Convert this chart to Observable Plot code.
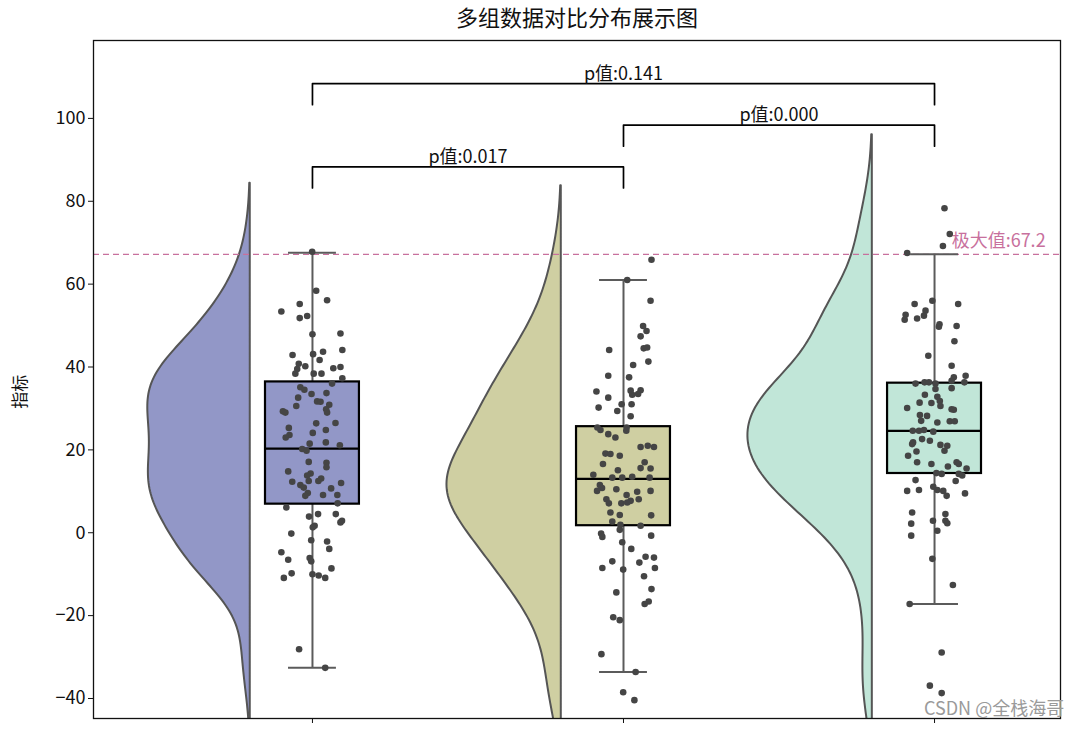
<!DOCTYPE html>
<html>
<head>
<meta charset="utf-8">
<script src="https://cdn.jsdelivr.net/npm/d3@7"></script>
<script src="https://cdn.jsdelivr.net/npm/@observablehq/plot@0.6"></script>
<style>
  body { margin: 0; background: #fff; font-family: 'Noto Sans CJK SC', sans-serif; }
  #title { width: 1000px; margin-left: 77px; height: 30px; line-height: 33px; text-align: center; font-size: 22px; color: #111; }
  #wrap { position: relative; width: 1077px; }
</style>
</head>
<body>
<div id="title">多组数据对比分布展示图</div>
<div id="wrap"></div>
<script>
// ---------------- data ----------------
const groups = ["组1", "组2", "组3"];
const fills = ["#9297c7", "#cfcfa2", "#c1e6d8"];

const valuesA = [67.8,58.4,56.1,55.2,53.4,51.8,52.3,47.9,48.1,42.9,
  43.1,43.7,44.1,41.7,40.8,40.2,39.5,38.4,38.4,38.4,
  39.7,40.0,37.3,36.0,35.1,34.5,33.5,33.7,32.6,31.7,
  31.6,30.9,30.6,29.8,29.3,29.0,29.0,26.4,26.5,25.3,
  24.1,24.8,23.6,23.0,21.8,21.5,21.1,20.2,19.8,17.1,
  16.9,15.8,14.8,14.3,13.8,13.1,12.5,12.3,12.0,12.5,
  11.5,10.9,9.6,8.9,9.1,10.7,9.1,7.1,6.1,3.9,
  4.5,4.5,1.7,1.3,2.5,2.9,-0.2,-1.8,-2.1,-3.9,
  -4.7,-6.5,-6.1,-6.9,-8.6,-9.8,-10.9,-10.0,-10.3,-10.9,
  -28.1,-32.6];
const jitterA = [-0.001,0.012,0.047,-0.041,-0.100,-0.041,-0.017,0.000,0.090,-0.064,
  0.002,0.034,0.096,0.023,-0.044,-0.023,-0.049,-0.055,0.004,0.029,
  0.067,0.090,0.096,0.063,-0.039,-0.026,-0.003,0.045,-0.046,0.015,
  0.026,0.054,-0.052,0.044,-0.095,-0.087,0.047,0.012,0.074,-0.076,
  0.001,0.043,-0.074,-0.086,0.043,-0.009,0.088,-0.033,-0.019,-0.012,
  0.045,0.045,-0.078,-0.006,-0.017,0.028,0.019,-0.065,0.092,-0.012,
  -0.039,-0.028,-0.015,-0.023,0.034,0.060,0.080,0.081,-0.084,-0.011,
  0.018,0.075,0.007,0.001,0.090,0.095,-0.068,-0.004,0.047,0.054,
  -0.100,-0.078,-0.009,-0.004,0.061,-0.067,-0.092,0.000,0.020,0.041,
  -0.043,0.041];

const valuesB = [65.9,61.0,56.0,49.9,48.7,47.4,44.1,44.5,44.7,41.3,
  40.5,37.9,37.5,34.1,34.3,34.4,33.5,33.3,32.6,31.0,
  31.0,30.2,29.4,28.1,25.4,25.4,24.8,23.8,23.0,24.6,
  20.7,21.0,20.7,19.1,19.0,18.6,16.6,17.0,15.6,15.5,
  15.1,14.0,13.3,13.3,13.5,13.3,11.5,10.8,10.1,10.5,
  9.9,10.1,9.1,8.1,7.7,8.1,7.1,7.1,7.3,4.9,
  4.3,4.2,2.7,1.9,1.7,0.7,-0.2,-1.0,-0.7,-2.3,
  -3.9,-6.9,-8.5,-8.9,-7.2,-5.8,-6.0,-8.5,-10.5,-14.4,
  -13.6,-16.6,-17.2,-20.4,-21.1,-29.3,-33.6,-38.5,-40.4];
const jitterB = [0.090,0.012,0.087,0.063,0.074,0.055,-0.046,0.065,0.076,0.080,
  0.031,-0.049,0.018,-0.087,0.023,0.055,0.047,0.028,-0.049,-0.006,
  0.026,-0.080,-0.020,0.023,-0.084,0.010,-0.074,-0.049,-0.026,0.009,
  0.055,0.078,0.098,-0.058,-0.042,-0.012,-0.066,0.068,0.055,0.087,
  -0.018,-0.097,-0.036,-0.004,0.028,0.084,-0.076,-0.069,-0.085,-0.023,
  0.044,0.087,0.010,-0.055,0.023,0.049,-0.047,-0.007,0.012,-0.042,
  -0.012,0.089,-0.036,-0.010,0.055,-0.012,-0.072,-0.068,0.089,-0.004,
  0.025,-0.036,-0.068,-0.001,0.051,0.071,0.098,0.101,0.066,-0.023,
  0.090,0.081,0.068,-0.033,-0.012,-0.071,0.039,-0.001,0.035];

const valuesC = [78.3,72.1,69.2,67.5,56.0,55.2,55.2,53.6,52.4,52.6,
  51.4,51.7,50.3,49.7,49.9,46.2,42.7,40.3,37.5,37.9,
  36.7,36.3,36.0,36.3,36.3,36.0,34.9,34.7,33.3,32.8,
  31.8,31.4,31.3,30.1,30.6,29.8,29.7,28.4,28.2,26.6,
  26.9,26.9,27.0,24.6,24.6,24.8,24.4,21.8,21.4,22.6,
  22.2,21.2,21.0,19.8,19.6,18.6,17.0,16.6,16.0,17.0,
  16.6,15.5,14.4,14.2,14.2,13.8,12.5,12.7,11.1,10.1,
  10.3,10.3,10.1,8.9,9.5,4.9,4.5,2.9,2.9,2.3,
  2.2,0.5,-0.7,-6.3,-12.6,-17.2,-28.9,-36.9,-38.7];
const jitterC = [0.032,0.049,0.027,-0.088,-0.007,-0.064,0.076,-0.029,-0.034,-0.093,
  -0.096,-0.056,0.016,0.014,0.071,0.064,-0.020,0.055,0.062,0.100,
  0.055,0.096,-0.061,-0.032,-0.018,0.003,0.055,0.003,-0.031,0.009,
  0.017,-0.048,-0.010,-0.088,0.019,0.055,0.062,-0.047,-0.024,0.009,
  0.049,0.065,-0.043,-0.070,-0.050,-0.034,-0.004,-0.069,-0.072,-0.040,
  -0.015,0.019,0.041,0.032,-0.058,-0.085,-0.056,-0.010,0.043,0.071,
  0.078,0.103,0.006,0.023,0.078,0.089,0.068,-0.061,-0.004,-0.088,
  -0.050,0.009,0.028,0.039,0.098,-0.072,0.035,-0.005,0.035,0.041,
  -0.075,0.009,-0.075,-0.007,0.059,-0.080,0.023,-0.015,0.023];

// box statistics
const q1 = [6.9, 1.7, 14.3];
const medians = [20.3, 13.0, 24.6];
const q3 = [36.4, 25.6, 36.1];
const whiskerLow = [-32.6, -33.6, -17.2];
const whiskerHigh = [67.6, 61.0, 67.2];

// significance brackets
const bracketFrom = [0, 1, 0];
const bracketTo = [1, 2, 2];
const bracketY = [88.3, 98.4, 108.4];
const pLabels = ["p值:0.017", "p值:0.000", "p值:0.141"];

const maxValue = 67.2;
const maxLabel = "极大值:67.2";
const yTicks = [-40, -20, 0, 20, 40, 60, 80, 100];

// ---------------- derived tables ----------------
const allValues = [valuesA, valuesB, valuesC];
const allJitter = [jitterA, jitterB, jitterC];

const points = [];
allValues.forEach((vals, g) => vals.forEach((v, k) => points.push({g, y: v, x: g + allJitter[g][k]})));

// half-violin: Gaussian KDE (Scott bandwidth, cut = 2)
function kde(vals) {
  const n = vals.length;
  const bw = d3.deviation(vals) * Math.pow(n, -1 / 5);
  const lo = d3.min(vals) - 2 * bw, hi = d3.max(vals) + 2 * bw;
  const m = 200;
  return d3.range(m).map(i => {
    const y = lo + (hi - lo) * i / (m - 1);
    const d = d3.sum(vals, v => Math.exp(-0.5 * ((y - v) / bw) ** 2)) / (n * bw * Math.sqrt(2 * Math.PI));
    return {y, d};
  });
}
const dens = allValues.map(kde);
const dmax = d3.max(dens.flat(), r => r.d);
const violin = [];
dens.forEach((rows, g) => rows.forEach(r => violin.push({
  group: groups[g], y: r.y, x1: g - 0.2 - 0.4 * r.d / dmax, x2: g - 0.2
})));

const boxes = groups.map((name, g) => ({
  group: name, g, q1: q1[g], med: medians[g], q3: q3[g], lo: whiskerLow[g], hi: whiskerHigh[g]
}));

const brackets = pLabels.map((label, i) => ({
  a: bracketFrom[i], b: bracketTo[i], y: bracketY[i], label
}));
const bracketLines = brackets.flatMap((b, i) => [
  {i, x: b.a, y: b.y - 5.1}, {i, x: b.a, y: b.y}, {i, x: b.b, y: b.y}, {i, x: b.b, y: b.y - 5.1}
]);

const whiskerGray = "#5b5b5b";

const chart = Plot.plot({
  width: 1077,
  height: 700,
  marginTop: 10,
  marginBottom: 12,
  marginLeft: 93,
  marginRight: 17,
  style: {fontFamily: "'Noto Sans CJK SC', sans-serif", fontSize: "17px", color: "#111", overflow: "visible"},
  x: {domain: [-0.704, 2.405], axis: null},
  y: {domain: [-44.83, 118.8], axis: null},
  color: {domain: groups, range: fills},
  marks: [
    Plot.areaX(violin, {x1: "x1", x2: "x2", y: "y", z: "group", fill: "group", stroke: "#555", strokeWidth: 2, clip: true}),
    Plot.ruleY([maxValue], {stroke: "#c8709d", strokeWidth: 1.3, strokeDasharray: "6,4"}),
    Plot.text([maxLabel], {x: 2.055, y: maxValue, text: d => d, textAnchor: "start", lineAnchor: "bottom", dy: -7, fill: "#c8709d", fontSize: 18}),
    // whiskers
    Plot.ruleX(boxes, {x: "g", y1: "q3", y2: "hi", stroke: whiskerGray, strokeWidth: 2}),
    Plot.ruleX(boxes, {x: "g", y1: "lo", y2: "q1", stroke: whiskerGray, strokeWidth: 2}),
    Plot.ruleY(boxes, {y: "hi", x1: d => d.g - 0.077, x2: d => d.g + 0.077, stroke: whiskerGray, strokeWidth: 2}),
    Plot.ruleY(boxes, {y: "lo", x1: d => d.g - 0.077, x2: d => d.g + 0.077, stroke: whiskerGray, strokeWidth: 2}),
    // boxes
    Plot.rect(boxes, {x1: d => d.g - 0.151, x2: d => d.g + 0.151, y1: "q1", y2: "q3", fill: "group", stroke: "#000", strokeWidth: 2.2}),
    Plot.ruleY(boxes, {y: "med", x1: d => d.g - 0.151, x2: d => d.g + 0.151, stroke: "#000", strokeWidth: 2.2}),
    // jittered points
    Plot.dot(points, {x: "x", y: "y", r: 3.3, fill: "#454545", stroke: "none"}),
    // brackets
    Plot.line(bracketLines, {x: "x", y: "y", z: "i", stroke: "#000", strokeWidth: 1.7, curve: "linear"}),
    Plot.text(brackets, {x: d => (d.a + d.b) / 2, y: "y", text: "label", lineAnchor: "bottom", dy: -4, fontSize: 18, fill: "#111"}),
    // axes
    Plot.axisY(yTicks, {tickSize: 5, tickPadding: 3, label: null, fontSize: 18, tickFormat: d3.format("d")}),
    Plot.axisX([0, 1, 2], {tickSize: 5, tickFormat: () => "", label: null}),
    Plot.text(["指标"], {x: () => -0.704, y: () => 34, dx: -73, rotate: -90, fontSize: 17, fill: "#111"}),
    Plot.frame({stroke: "#111", strokeWidth: 1.3})
  ]
});
document.getElementById("wrap").appendChild(chart);

// watermark
const wm = document.createElement("div");
wm.textContent = "CSDN @全栈海哥";
Object.assign(wm.style, {position: "absolute", left: "924px", top: "664px", fontSize: "18px", color: "#9a9a9a", whiteSpace: "nowrap"});
document.getElementById("wrap").appendChild(wm);
</script>
</body>
</html>
